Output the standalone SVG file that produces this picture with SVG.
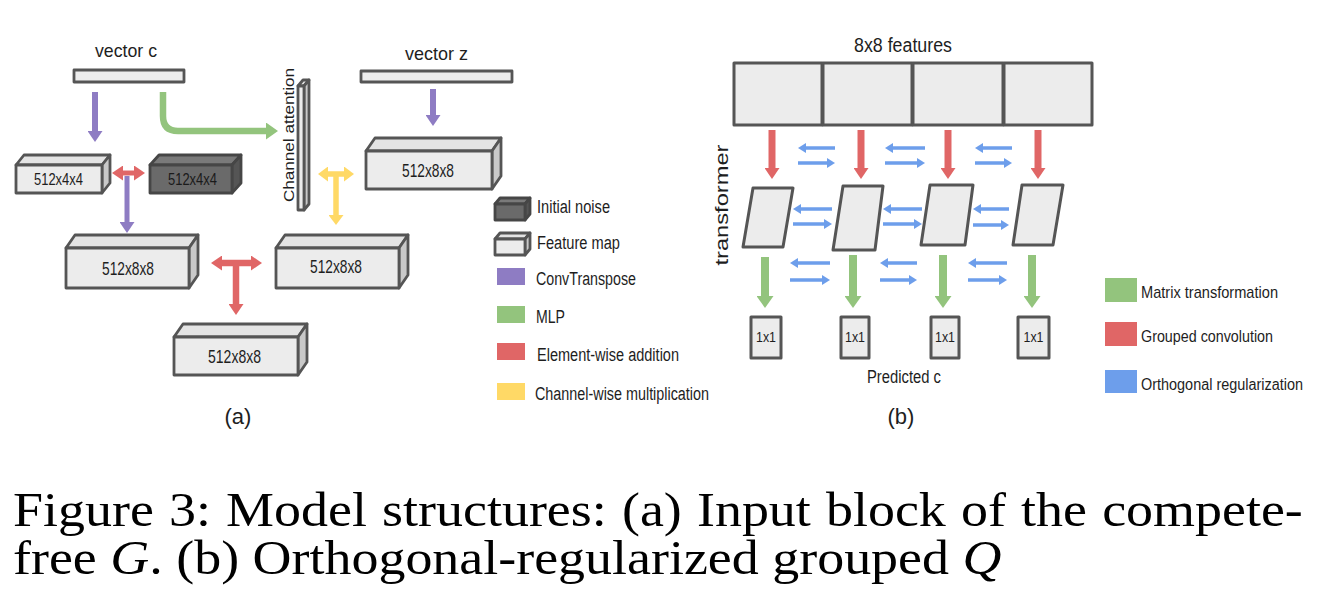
<svg xmlns="http://www.w3.org/2000/svg" width="1328" height="610" viewBox="0 0 1328 610">
<style>
.t{font-family:"Liberation Sans",Arial,sans-serif;fill:#1e1e1e}
.cap{font-family:"Liberation Serif","Times New Roman",serif;fill:#000;font-size:48px}
.front{fill:#ececec;stroke:#555;stroke-width:2.8;stroke-linejoin:round}
.top{fill:#e4e4e4;stroke:#555;stroke-width:2.8;stroke-linejoin:round}
.side{fill:#c9c9c9;stroke:#555;stroke-width:2.8;stroke-linejoin:round}
.dfront{fill:#6a6a6a;stroke:#464646;stroke-width:2.8;stroke-linejoin:round}
.dtop{fill:#7a7a7a;stroke:#464646;stroke-width:2.8;stroke-linejoin:round}
.dside{fill:#555;stroke:#464646;stroke-width:2.8;stroke-linejoin:round}
.cell{fill:#ececec;stroke:#555;stroke-width:3;stroke-linejoin:round}
.ap{stroke:#8e7cc3;fill:none}
.ag{stroke:#93c47d;fill:none}
.ar{stroke:#e06666;fill:none}
.ay{stroke:#ffd966;fill:none}
.ab{stroke:#6d9eeb;fill:none;stroke-width:3.5}
</style>
<defs>
<marker id="hP" markerUnits="userSpaceOnUse" markerWidth="11" markerHeight="15" viewBox="0 0 11 15" refX="0" refY="7.5" orient="auto-start-reverse"><path d="M0,0 L11,7.5 L0,15 z" fill="#8e7cc3"/></marker>
<marker id="hG" markerUnits="userSpaceOnUse" markerWidth="12" markerHeight="17" viewBox="0 0 12 17" refX="0" refY="8.5" orient="auto-start-reverse"><path d="M0,0 L12,8.5 L0,17 z" fill="#93c47d"/></marker>
<marker id="hR" markerUnits="userSpaceOnUse" markerWidth="11" markerHeight="15" viewBox="0 0 11 15" refX="0" refY="7.5" orient="auto-start-reverse"><path d="M0,0 L11,7.5 L0,15 z" fill="#e06666"/></marker>
<marker id="hY" markerUnits="userSpaceOnUse" markerWidth="10" markerHeight="15" viewBox="0 0 10 15" refX="0" refY="7.5" orient="auto-start-reverse"><path d="M0,0 L10,7.5 L0,15 z" fill="#ffd966"/></marker>
<marker id="hB" markerUnits="userSpaceOnUse" markerWidth="8" markerHeight="10" viewBox="0 0 8 10" refX="0" refY="5" orient="auto-start-reverse"><path d="M0,0 L8,5 L0,10 z" fill="#6d9eeb"/></marker>
</defs>

<!-- ===== Panel (a) ===== -->
<g id="vector-c">
<text class="t" x="126" y="57" font-size="18.5" text-anchor="middle" textLength="62" lengthAdjust="spacingAndGlyphs">vector c</text>
<rect class="front" x="74" y="70" width="110" height="12"/>
</g>
<g id="vector-z">
<text class="t" x="436.5" y="60" font-size="18.5" text-anchor="middle" textLength="63" lengthAdjust="spacingAndGlyphs">vector z</text>
<rect class="front" x="361" y="71" width="151" height="11"/>
</g>
<g id="channel-attention">
<polygon class="top" points="298,86 303,80 309,80 304,86"/>
<polygon class="side" points="304,86 309,80 309,204 304,210"/>
<rect class="front" x="298" y="86" width="6" height="124"/>
<text class="t" transform="translate(293.5,135) rotate(-90)" font-size="15" text-anchor="middle" textLength="134" lengthAdjust="spacingAndGlyphs">Channel attention</text>
</g>
<g id="box-c-512x4x4">
<polygon class="top" points="16,165 24,155 110,155 102,165"/>
<polygon class="side" points="102,165 110,155 110,183 102,193"/>
<rect class="front" x="16" y="165" width="86" height="28"/>
<text class="t" x="58.5" y="185" font-size="16.5" text-anchor="middle" textLength="49" lengthAdjust="spacingAndGlyphs">512x4x4</text>
</g>
<g id="box-noise-512x4x4">
<polygon class="dtop" points="150,165 159,155 241,155 232,165"/>
<polygon class="dside" points="232,165 241,155 241,183 232,193"/>
<rect class="dfront" x="150" y="165" width="82" height="28"/>
<text class="t" x="192.5" y="185" font-size="16.5" text-anchor="middle" textLength="49" lengthAdjust="spacingAndGlyphs" style="fill:#1a1a1a">512x4x4</text>
</g>
<g id="box-z-512x8x8">
<polygon class="top" points="366,151 375,138 501,138 492,151"/>
<polygon class="side" points="492,151 501,138 501,176 492,189"/>
<rect class="front" x="366" y="151" width="126" height="38"/>
<text class="t" x="428" y="177" font-size="18.5" text-anchor="middle" textLength="52" lengthAdjust="spacingAndGlyphs">512x8x8</text>
</g>
<g id="box-left-512x8x8">
<polygon class="top" points="66,248 75,235 198,235 189,248"/>
<polygon class="side" points="189,248 198,235 198,275 189,288"/>
<rect class="front" x="66" y="248" width="123" height="40"/>
<text class="t" x="128" y="275" font-size="18.5" text-anchor="middle" textLength="52" lengthAdjust="spacingAndGlyphs">512x8x8</text>
</g>
<g id="box-right-512x8x8">
<polygon class="top" points="276,248 285,235 408,235 399,248"/>
<polygon class="side" points="399,248 408,235 408,275 399,288"/>
<rect class="front" x="276" y="248" width="123" height="40"/>
<text class="t" x="336" y="273" font-size="18.5" text-anchor="middle" textLength="52" lengthAdjust="spacingAndGlyphs">512x8x8</text>
</g>
<g id="box-out-512x8x8">
<polygon class="top" points="174,337 183,324 307,324 298,337"/>
<polygon class="side" points="298,337 307,324 307,362 298,375"/>
<rect class="front" x="174" y="337" width="124" height="38"/>
<text class="t" x="234.5" y="363" font-size="18.5" text-anchor="middle" textLength="53" lengthAdjust="spacingAndGlyphs">512x8x8</text>
</g>

<g id="connectors-a">
<line class="ap" x1="95" y1="92" x2="95" y2="131" stroke-width="6" marker-end="url(#hP)"/>
<path class="ag" d="M163,92 V116 Q163,131 178,131 H266" stroke-width="6.5" marker-end="url(#hG)"/>
<line class="ap" x1="433" y1="89" x2="433" y2="115" stroke-width="6" marker-end="url(#hP)"/>
<line class="ar" x1="123" y1="173" x2="134" y2="173" stroke-width="5" marker-start="url(#hR)" marker-end="url(#hR)"/>
<line class="ap" x1="127" y1="176" x2="127" y2="222" stroke-width="5" marker-end="url(#hP)"/>
<line class="ay" x1="328" y1="174" x2="344" y2="174" stroke-width="5.5" marker-start="url(#hY)" marker-end="url(#hY)"/>
<line class="ay" x1="336" y1="176" x2="336" y2="215" stroke-width="5.5" marker-end="url(#hY)"/>
<line class="ar" x1="222" y1="263" x2="251" y2="263" stroke-width="6.5" marker-start="url(#hR)" marker-end="url(#hR)"/>
<line class="ar" x1="236" y1="265" x2="236" y2="304" stroke-width="6.5" marker-end="url(#hR)"/>
</g>

<g id="legend-a">
<g id="lg-initial-noise">
<polygon class="dtop" points="495,204 500,198 530,198 525,204" stroke-width="2"/>
<polygon class="dside" points="525,204 530,198 530,214 525,220" stroke-width="2"/>
<rect class="dfront" x="495" y="204" width="30" height="16" stroke-width="2"/>
<text class="t" x="537" y="213" font-size="18" textLength="73" lengthAdjust="spacingAndGlyphs">Initial noise</text>
</g>
<g id="lg-feature-map">
<polygon class="top" points="495,239 500,233 530,233 525,239" stroke-width="2"/>
<polygon class="side" points="525,239 530,233 530,249 525,255" stroke-width="2"/>
<rect class="front" x="495" y="239" width="30" height="16" stroke-width="2"/>
<text class="t" x="537" y="249" font-size="18" textLength="83" lengthAdjust="spacingAndGlyphs">Feature map</text>
</g>
<rect x="497" y="268" width="28" height="17" fill="#8e7cc3"/>
<text class="t" x="536" y="285" font-size="18" textLength="100" lengthAdjust="spacingAndGlyphs">ConvTranspose</text>
<rect x="497" y="306" width="28" height="17" fill="#93c47d"/>
<text class="t" x="536" y="323" font-size="18" textLength="29" lengthAdjust="spacingAndGlyphs">MLP</text>
<rect x="497" y="343" width="28" height="17" fill="#e06666"/>
<text class="t" x="537" y="361" font-size="18" textLength="142" lengthAdjust="spacingAndGlyphs">Element-wise addition</text>
<rect x="497" y="383" width="28" height="17" fill="#ffd966"/>
<text class="t" x="535" y="400" font-size="18" textLength="174" lengthAdjust="spacingAndGlyphs">Channel-wise multiplication</text>
</g>
<text class="t" x="238" y="424" font-size="22" text-anchor="middle">(a)</text>

<!-- ===== Panel (b) ===== -->
<text class="t" x="903" y="52" font-size="20" text-anchor="middle" textLength="98" lengthAdjust="spacingAndGlyphs">8x8 features</text>
<g id="features">
<rect class="cell" x="734" y="63" width="88" height="62"/>
<rect class="cell" x="823" y="63" width="89" height="62"/>
<rect class="cell" x="913" y="63" width="90" height="62"/>
<rect class="cell" x="1004" y="63" width="88" height="62"/>
</g>
<text class="t" transform="translate(728,205) rotate(-90)" font-size="18" text-anchor="middle" textLength="121" lengthAdjust="spacingAndGlyphs">transformer</text>
<g id="group-1"><polygon class="cell" points="753,188 793,188 783,247 743,247"/></g>
<g id="group-2"><polygon class="cell" points="843,186 883,186 875,250 833,250"/></g>
<g id="group-3"><polygon class="cell" points="930,185 973,185 965,245 921,245"/></g>
<g id="group-4"><polygon class="cell" points="1022,185 1063,185 1053,245 1013,245"/></g>
<g id="out-1"><rect class="cell" x="751" y="317" width="30" height="41"/><text class="t" x="766" y="342" font-size="15.5" text-anchor="middle" textLength="20" lengthAdjust="spacingAndGlyphs">1x1</text></g>
<g id="out-2"><rect class="cell" x="841" y="317" width="28" height="41"/><text class="t" x="855" y="342" font-size="15.5" text-anchor="middle" textLength="20" lengthAdjust="spacingAndGlyphs">1x1</text></g>
<g id="out-3"><rect class="cell" x="931" y="317" width="28" height="41"/><text class="t" x="945" y="342" font-size="15.5" text-anchor="middle" textLength="20" lengthAdjust="spacingAndGlyphs">1x1</text></g>
<g id="out-4"><rect class="cell" x="1018" y="317" width="31" height="41"/><text class="t" x="1033.5" y="342" font-size="15.5" text-anchor="middle" textLength="20" lengthAdjust="spacingAndGlyphs">1x1</text></g>
<text class="t" x="904" y="383" font-size="17.5" text-anchor="middle" textLength="74" lengthAdjust="spacingAndGlyphs">Predicted c</text>
<text class="t" x="901" y="424" font-size="22" text-anchor="middle">(b)</text>

<g id="connectors-b">
<line class="ar" x1="772" y1="130" x2="772" y2="168" stroke-width="7" marker-end="url(#hR)"/>
<line class="ar" x1="861" y1="130" x2="861" y2="168" stroke-width="7" marker-end="url(#hR)"/>
<line class="ar" x1="948" y1="130" x2="948" y2="168" stroke-width="7" marker-end="url(#hR)"/>
<line class="ar" x1="1038" y1="130" x2="1038" y2="168" stroke-width="7" marker-end="url(#hR)"/>
<line class="ag" x1="765" y1="257" x2="765" y2="296" stroke-width="8" marker-end="url(#hG)"/>
<line class="ag" x1="853" y1="255" x2="853" y2="296" stroke-width="8" marker-end="url(#hG)"/>
<line class="ag" x1="943" y1="255" x2="943" y2="296" stroke-width="8" marker-end="url(#hG)"/>
<line class="ag" x1="1032" y1="255" x2="1032" y2="296" stroke-width="8" marker-end="url(#hG)"/>
<!-- row 1 -->
<line class="ab" x1="835" y1="148" x2="806" y2="148" stroke-width="4" marker-end="url(#hB)"/>
<line class="ab" x1="798" y1="163" x2="827" y2="163" stroke-width="3" marker-end="url(#hB)"/>
<line class="ab" x1="925" y1="148" x2="893" y2="148" stroke-width="3" marker-end="url(#hB)"/>
<line class="ab" x1="885" y1="163" x2="917" y2="163" stroke-width="4" marker-end="url(#hB)"/>
<line class="ab" x1="1012" y1="148" x2="983" y2="148" stroke-width="3" marker-end="url(#hB)"/>
<line class="ab" x1="975" y1="163" x2="1004" y2="163" stroke-width="4" marker-end="url(#hB)"/>
<!-- row 2 -->
<line class="ab" x1="832" y1="209" x2="801" y2="209" stroke-width="4" marker-end="url(#hB)"/>
<line class="ab" x1="793" y1="224" x2="824" y2="224" stroke-width="3" marker-end="url(#hB)"/>
<line class="ab" x1="922" y1="209" x2="891" y2="209" stroke-width="4" marker-end="url(#hB)"/>
<line class="ab" x1="883" y1="224" x2="914" y2="224" stroke-width="3" marker-end="url(#hB)"/>
<line class="ab" x1="1009" y1="209" x2="981" y2="209" stroke-width="4" marker-end="url(#hB)"/>
<line class="ab" x1="973" y1="225" x2="1001" y2="225" stroke-width="4" marker-end="url(#hB)"/>
<!-- row 3 -->
<line class="ab" x1="830" y1="263" x2="798" y2="263" stroke-width="3" marker-end="url(#hB)"/>
<line class="ab" x1="790" y1="280" x2="822" y2="280" stroke-width="4" marker-end="url(#hB)"/>
<line class="ab" x1="917" y1="263" x2="888" y2="263" stroke-width="3" marker-end="url(#hB)"/>
<line class="ab" x1="880" y1="280" x2="909" y2="280" stroke-width="4" marker-end="url(#hB)"/>
<line class="ab" x1="1007" y1="263" x2="976" y2="263" stroke-width="3" marker-end="url(#hB)"/>
<line class="ab" x1="968" y1="280" x2="999" y2="280" stroke-width="4" marker-end="url(#hB)"/>
</g>

<g id="legend-b">
<rect x="1105" y="278" width="32" height="24" fill="#93c47d"/>
<text class="t" x="1141" y="298" font-size="17" textLength="137" lengthAdjust="spacingAndGlyphs">Matrix transformation</text>
<rect x="1105" y="322" width="32" height="24" fill="#e06666"/>
<text class="t" x="1141" y="342" font-size="17" textLength="132" lengthAdjust="spacingAndGlyphs">Grouped convolution</text>
<rect x="1105" y="370" width="32" height="23" fill="#6d9eeb"/>
<text class="t" x="1141" y="390" font-size="16" textLength="162" lengthAdjust="spacingAndGlyphs">Orthogonal regularization</text>
</g>

<!-- ===== Caption ===== -->
<text class="cap" transform="translate(13,526) scale(1.124,1)" x="0" y="0" word-spacing="1.5">Figure 3: Model structures: (a) Input block of the compete-</text>
<text class="cap" transform="translate(13,574) scale(1.124,1)" x="0" y="0">free <tspan font-style="italic">G</tspan>. (b) Orthogonal-regularized grouped <tspan font-style="italic">Q</tspan></text>
</svg>
